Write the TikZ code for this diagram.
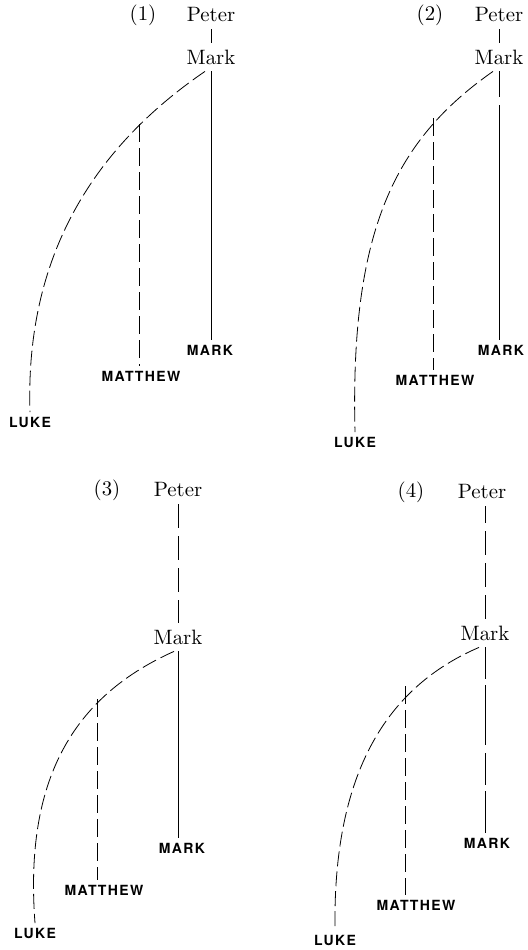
\documentclass[tikz,border=0pt]{standalone}
\usepackage{fontspec}
\newfontfamily\gospelfont[LetterSpace=10]{TeX Gyre Heros}
\usetikzlibrary{calc}

\begin{document}
\begin{tikzpicture}[x=0.5pt,y=-0.5pt,
    person/.style={font=\fontsize{10.4}{12}\selectfont},
    gospel/.style={font=\gospelfont\bfseries\fontsize{7}{8}\selectfont,inner sep=2.2pt},
    curveline/.style={dash pattern=on 7.5pt off 2.5pt},
    mattline/.style={dash pattern=on 9pt off 3pt},
    longdash/.style={dash pattern=on 12pt off 4pt},
    markdash/.style={dash pattern=on 16pt off 3pt on 30pt off 4pt}]
        \useasboundingbox (0,0) rectangle (527,950);
        % panel (1)
        \node[person] (num1) at (143,15) {(1)};
        \node[person] (peter1) at (211,15) {Peter};
        \node[person] (mark1) at (211,57) {Mark};
        \node[gospel] (gmark1) at (210,350) {MARK};
        \node[gospel] (gmatt1) at (141,376) {MATTHEW};
        \node[gospel] (luke1) at (30,422) {LUKE};
        \coordinate (br1) at (139,124);
        \draw (peter1) -- (mark1);
        \draw (mark1.south) -- (mark1.south |- gmark1.north);
        \draw[curveline] ([xshift=-3pt]mark1.south) .. controls (90,150) and (25,260) .. (luke1.north);
        \draw[mattline] (br1) -- (br1 |- gmatt1.north);
        % panel (2)
        \node[person] (num2) at (430,15) {(2)};
        \node[person] (peter2) at (499,15) {Peter};
        \node[person] (mark2) at (499,57) {Mark};
        \node[gospel] (gmark2) at (501,350) {MARK};
        \node[gospel] (gmatt2) at (435,380) {MATTHEW};
        \node[gospel] (luke2) at (355,442) {LUKE};
        \coordinate (br2) at (433,118);
        \draw (peter2) -- (mark2);
        \draw[dash pattern=on 13pt off 4pt on 200pt off 1pt] (mark2.south) -- (mark2.south |- gmark2.north);
        \draw[curveline] ([xshift=-3pt]mark2.south) .. controls (395,140) and (350,230) .. (luke2.north);
        \draw[mattline] (br2) -- (br2 |- gmatt2.north);
        % panel (3)
        \node[person] (num3) at (107,490) {(3)};
        \node[person] (peter3) at (178,490) {Peter};
        \node[person] (mark3) at (178,637) {Mark};
        \node[gospel] (gmark3) at (182,848) {MARK};
        \node[gospel] (gmatt3) at (104,890) {MATTHEW};
        \node[gospel] (luke3) at (35,933) {LUKE};
        \coordinate (br3) at (97,699);
        \draw[longdash] (peter3) -- (mark3);
        \draw (mark3.south) -- (mark3.south |- gmark3.north);
        \draw[curveline] ([xshift=-2pt]mark3.south) .. controls (65,700) and (25,790) .. (luke3.north);
        \draw[mattline] (br3) -- (br3 |- gmatt3.north);
        % panel (4)
        \node[person] (num4) at (411,492) {(4)};
        \node[person] (peter4) at (482,492) {Peter};
        \node[person] (mark4) at (485,633) {Mark};
        \node[gospel] (gmark4) at (487,843) {MARK};
        \node[gospel] (gmatt4) at (416,905) {MATTHEW};
        \node[gospel] (luke4) at (335,940) {LUKE};
        \coordinate (br4) at (405,686);
        \draw[longdash] (mark4.north) -- (mark4.north |- peter4.south);
        \draw[markdash] (mark4.south) -- (mark4.south |- gmark4.north);
        \draw[curveline] ([xshift=-3pt]mark4.south) .. controls (375,692) and (333,790) .. (luke4.north);
        \draw[mattline] (br4) -- (br4 |- gmatt4.north);
      \end{tikzpicture}
\end{document}
